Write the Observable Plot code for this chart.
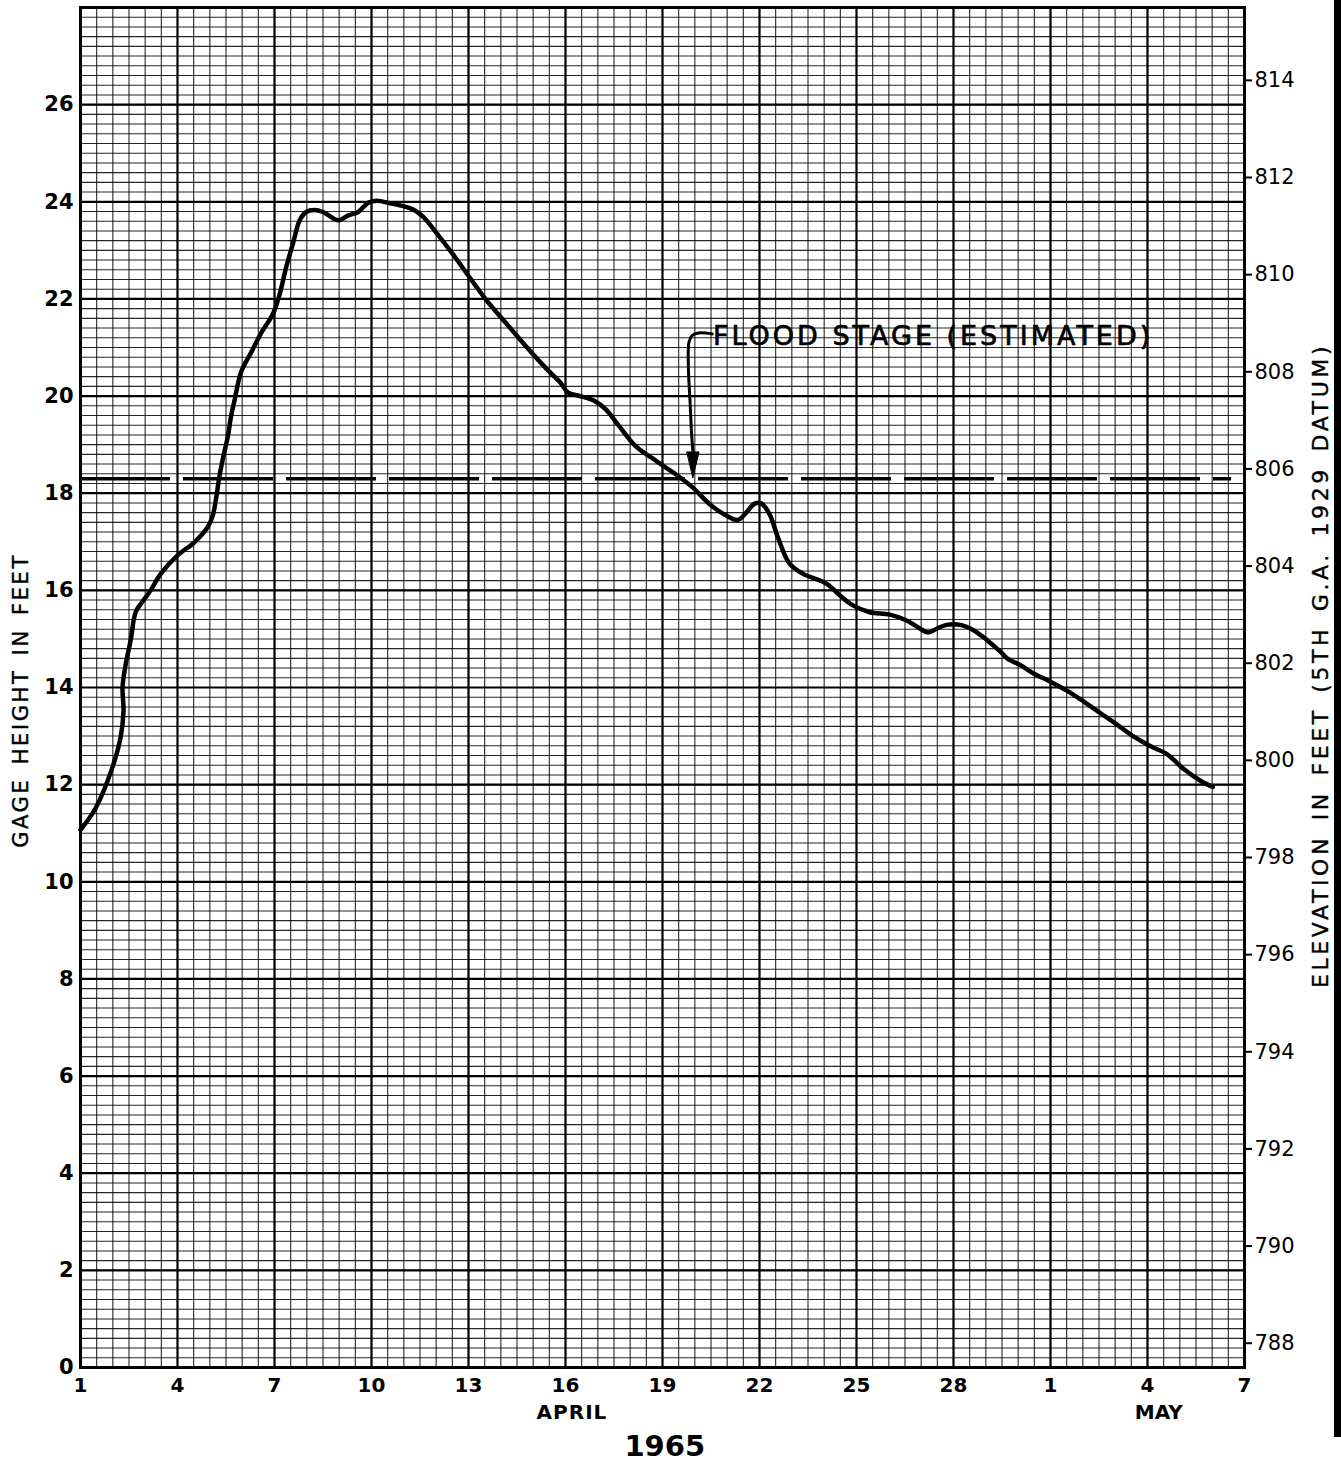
<!DOCTYPE html>
<html>
<head>
<meta charset="utf-8">
<script src="https://cdn.jsdelivr.net/npm/d3@7"></script>
<script src="https://cdn.jsdelivr.net/npm/@observablehq/plot@0.6"></script>
<style>
  html, body { margin: 0; padding: 0; background: #fff; }
  #wrap { position: relative; width: 1341px; height: 1471px; overflow: hidden; }
  #scanbar { position: absolute; left: 1334px; top: 0; width: 7px; height: 1437px; background: #000; }
</style>
</head>
<body>
<div id="wrap"><div id="scanbar"></div></div>
<script>
// ---- Data ----
// Day index: 1 = April 1, 31 = May 1, 37 = May 7
const days = [
  1.00, 1.47, 1.98, 2.24, 2.33, 2.30, 2.38, 2.55, 2.71, 2.92, 3.17, 3.48, 4.00, 4.52, 4.93, 5.09,
  5.19, 5.30, 5.40, 5.56, 5.66, 5.76, 5.97, 6.28, 6.59, 6.95, 7.16, 7.36, 7.57, 7.78, 7.98, 8.24,
  8.50, 8.97, 9.28, 9.59, 9.90, 10.16, 10.57, 10.98, 11.29, 11.60, 12.02, 12.54, 13.06, 13.57,
  14.19, 14.81, 15.43, 15.85, 16.08, 16.45, 16.90, 17.24, 17.66, 18.17, 18.79, 19.41, 19.93,
  20.45, 20.97, 21.33, 21.59, 21.84, 22.05, 22.31, 22.57, 22.93, 23.35, 24.07, 24.48, 24.89,
  25.41, 26.03, 26.55, 26.97, 27.22, 27.48, 27.79, 28.21, 28.62, 29.03, 29.45, 29.66, 30.07,
  30.48, 31.00, 31.52, 32.03, 32.55, 33.07, 33.48, 34.10, 34.62, 35.14, 35.66, 36.02
];
const gageFeet = [
  11.07, 11.52, 12.34, 12.97, 13.52, 14.00, 14.41, 14.97, 15.56, 15.77, 16.00, 16.34, 16.72, 16.99, 17.30, 17.54,
  17.88, 18.36, 18.70, 19.18, 19.60, 19.90, 20.50, 20.90, 21.30, 21.69, 22.10, 22.65, 23.14, 23.62, 23.79, 23.83,
  23.79, 23.62, 23.72, 23.79, 23.98, 24.02, 23.97, 23.91, 23.84, 23.69, 23.35, 22.90, 22.42, 21.96,
  21.48, 21.00, 20.55, 20.27, 20.07, 20.00, 19.90, 19.73, 19.38, 18.97, 18.67, 18.39, 18.12,
  17.78, 17.54, 17.45, 17.60, 17.78, 17.79, 17.57, 17.09, 16.55, 16.34, 16.14, 15.90, 15.69,
  15.55, 15.50, 15.38, 15.21, 15.13, 15.21, 15.29, 15.29, 15.18, 14.98, 14.74, 14.60, 14.46,
  14.29, 14.12, 13.93, 13.71, 13.47, 13.23, 13.03, 12.79, 12.62, 12.31, 12.07, 11.95
];

const floodStage = 18.3;          // gage feet
const floodDashEnd = 36.6;        // day where dashed line ends
const datumOffset = 787.5;        // elevation = gage + offset

const gageTicks = [0, 2, 4, 6, 8, 10, 12, 14, 16, 18, 20, 22, 24, 26];
const elevationTicks = [788, 790, 792, 794, 796, 798, 800, 802, 804, 806, 808, 810, 812, 814];
const dayTicks = [1, 4, 7, 10, 13, 16, 19, 22, 25, 28, 31, 34, 37];
const dayTickLabels = ["1", "4", "7", "10", "13", "16", "19", "22", "25", "28", "1", "4", "7"];

const monthLabels = ["APRIL", "MAY"];
const monthLabelDays = [16.2, 34.35];
const yearLabel = "1965";
const yearLabelDay = 19.07;

const gageTitle = "GAGE HEIGHT IN FEET";
const elevTitle = "ELEVATION IN FEET (5TH G.A. 1929 DATUM)";

const floodText = "FLOOD STAGE (ESTIMATED)";
const floodTextDay = 20.56;
const floodTextFeet = 21.22;

// annotation arrow (day, feet)
const arrowDays = [20.54, 20.12, 19.92, 19.82, 19.80, 19.85, 19.90, 19.94];
const arrowFeet = [21.28, 21.30, 21.25, 21.11, 20.60, 19.91, 19.22, 18.85];
const arrowHeadDays = [19.76, 20.13, 19.94];
const arrowHeadFeet = [18.85, 18.85, 18.32];

// grid lines (graph paper)
const minorDayLines = d3.range(0, 73).map(i => 1 + i * 0.5);
const majorDayLines = dayTicks;
const minorFeetLines = d3.range(0, 141).map(i => i * 0.2);
const majorFeetLines = d3.range(0, 15).map(i => i * 2);

// ---- Build ----
const curve = days.map((d, i) => ({day: d, ft: gageFeet[i]}));
const arrowPath = arrowDays.map((d, i) => ({day: d, ft: arrowFeet[i]}));
const arrowHead = arrowHeadDays.map((d, i) => ({day: d, ft: arrowHeadFeet[i]}));

const chart = Plot.plot({
  width: 1341,
  height: 1471,
  marginLeft: 80,
  marginRight: 97,
  marginTop: 7,
  marginBottom: 104,
  x: {domain: [1, 37], axis: null},
  y: {domain: [0, 28], axis: null},
  style: {fontFamily: "DejaVu Sans", background: "transparent", color: "black"},
  marks: [
    Plot.ruleX(minorDayLines, {stroke: "#000", strokeWidth: 1.1, strokeOpacity: 0.85}),
    Plot.ruleY(minorFeetLines, {stroke: "#000", strokeWidth: 1.1, strokeOpacity: 0.85}),
    Plot.ruleX(majorDayLines, {stroke: "#000", strokeWidth: 2.2}),
    Plot.ruleY(majorFeetLines, {stroke: "#000", strokeWidth: 2.2}),
    Plot.frame({stroke: "#000", strokeWidth: 3}),
    Plot.axisY({
      anchor: "left", ticks: gageTicks, tickSize: 0, tickPadding: 7,
      fontSize: 21, fontWeight: "bold", label: null
    }),
    Plot.axisY({
      anchor: "right", ticks: elevationTicks.map(e => e - datumOffset),
      tickFormat: d => String(Math.round(d + datumOffset)),
      tickSize: 7, tickPadding: 3, strokeWidth: 2, fontSize: 21, label: null
    }),
    Plot.axisX({
      anchor: "bottom", ticks: dayTicks,
      tickFormat: d => dayTickLabels[dayTicks.indexOf(d)],
      tickSize: 0, tickPadding: 10, fontSize: 20, fontWeight: "bold", label: null
    }),
    Plot.ruleY([floodStage], {
      x1: 1, x2: floodDashEnd, stroke: "#000", strokeWidth: 3.5, strokeDasharray: "90,13"
    }),
    Plot.line(curve, {x: "day", y: "ft", curve: "catmull-rom", stroke: "#000", strokeWidth: 4.5, strokeLinejoin: "round", strokeLinecap: "round"}),
    Plot.line(arrowPath, {x: "day", y: "ft", curve: "catmull-rom", stroke: "#000", strokeWidth: 3}),
    Plot.line(arrowHead, {x: "day", y: "ft", curve: "linear-closed", fill: "#000", stroke: "#000", strokeWidth: 1}),
    Plot.text([floodText], {
      x: [floodTextDay], y: [floodTextFeet], text: d => d, textAnchor: "start",
      fontSize: 27, stroke: "#000", strokeWidth: 0.7, fill: "#000"
    }),
    Plot.text(monthLabels, {
      x: monthLabelDays, text: d => d, frameAnchor: "bottom", dy: 51,
      fontSize: 20, fontWeight: "bold"
    }),
    Plot.text([yearLabel], {
      x: [yearLabelDay], text: d => d, frameAnchor: "bottom", dy: 88,
      fontSize: 29, fontWeight: "bold"
    }),
    Plot.text([gageTitle], {
      text: d => d, frameAnchor: "left", textAnchor: "middle", dx: -59, dy: 13, rotate: -90,
      fontSize: 21, stroke: "#000", strokeWidth: 0.4, fill: "#000"
    }),
    Plot.text([elevTitle], {
      text: d => d, frameAnchor: "right", textAnchor: "middle", dx: 76, dy: -22, rotate: -90,
      fontSize: 22, stroke: "#000", strokeWidth: 0.4, fill: "#000"
    })
  ]
});

// letter spacing for the hand-lettered texts
const spacing = new Map([
  [gageTitle, ["2.6px", "4px"]],
  [elevTitle, ["3.6px", "4px"]],
  [floodText, ["3px", "0px"]],
  ["APRIL", ["1px", "0px"]]
]);
d3.select(chart).selectAll("text").each(function () {
  const s = spacing.get(this.textContent);
  if (s) {
    this.style.letterSpacing = s[0];
    this.style.wordSpacing = s[1];
  }
});

document.getElementById("wrap").prepend(chart);
</script>
</body>
</html>
